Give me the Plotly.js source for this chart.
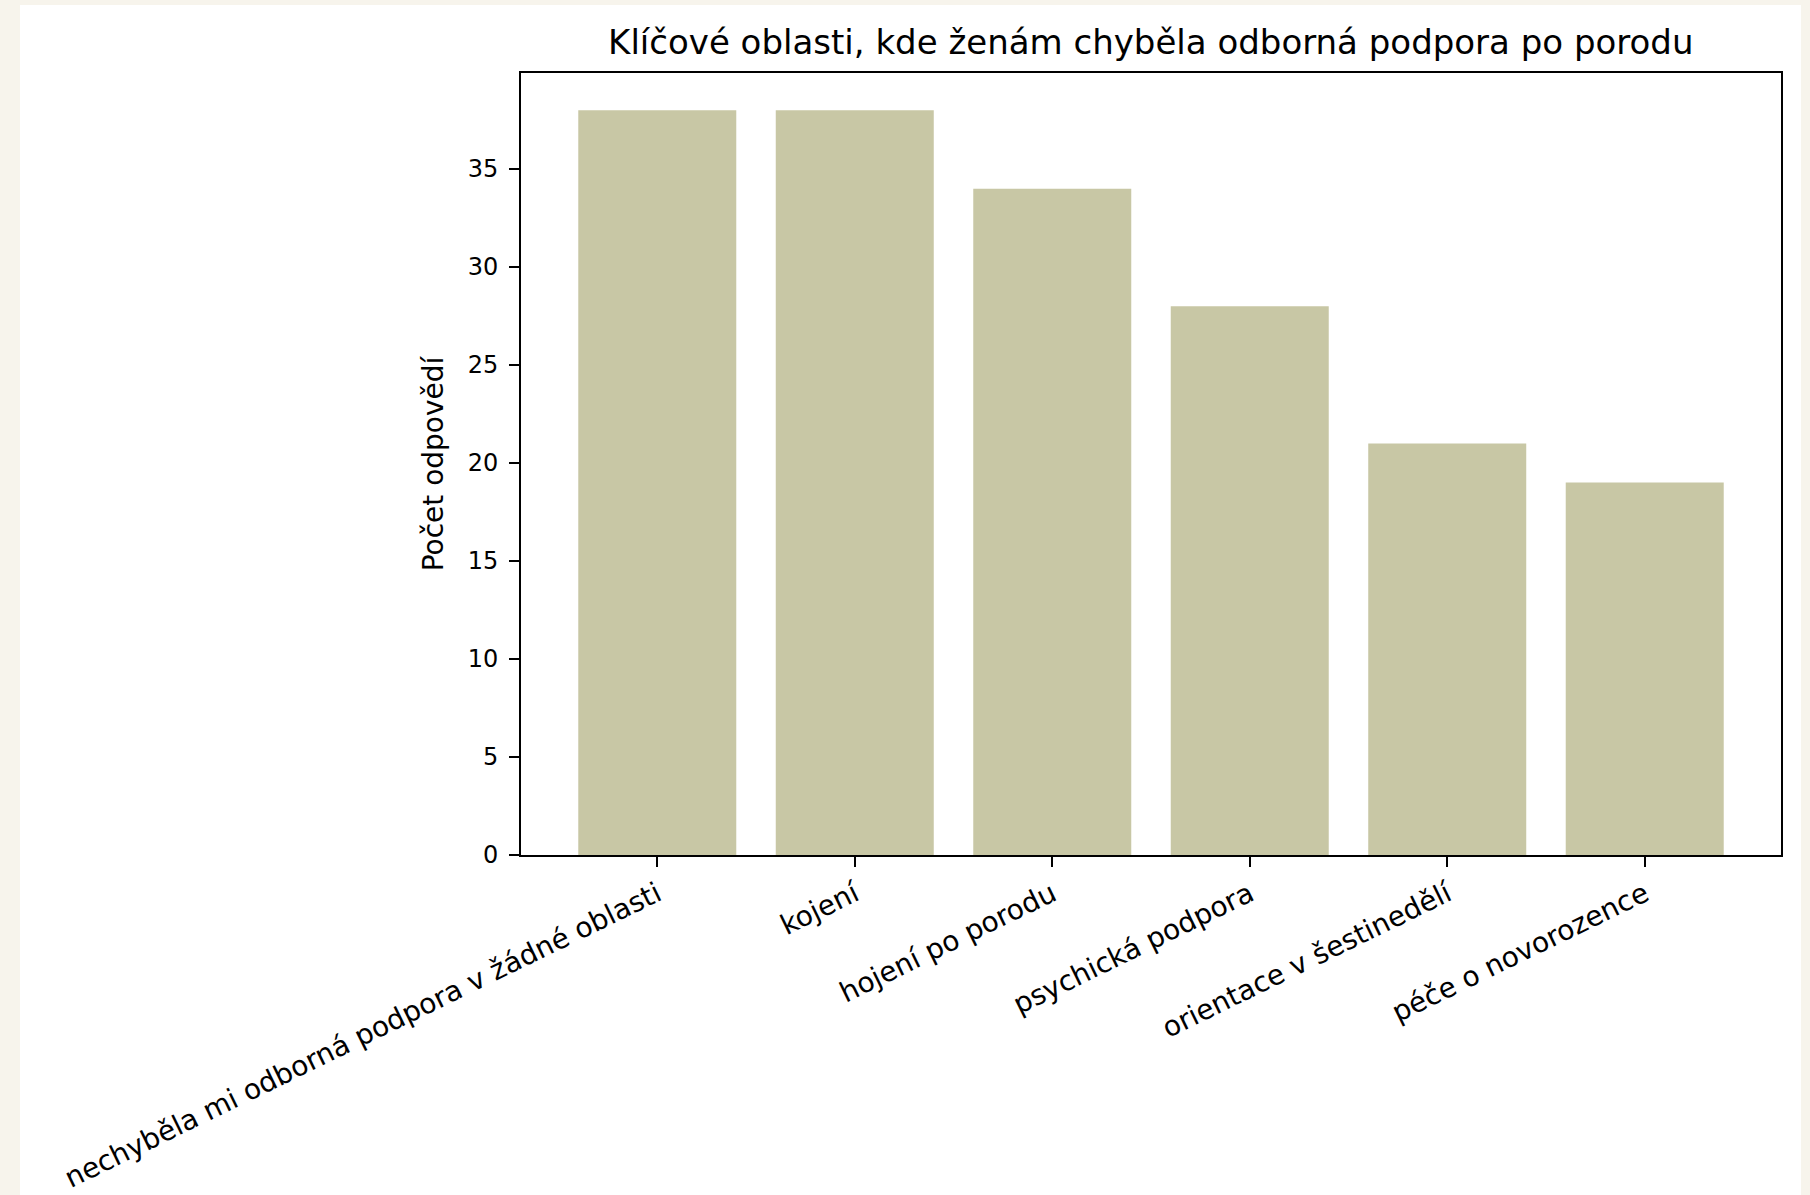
<!DOCTYPE html>
<html>
<head>
<meta charset="utf-8">
<script src="https://cdn.plot.ly/plotly-3.0.1.min.js"></script>
<style>
  html, body { margin: 0; padding: 0; background: #f7f4ec; width: 1810px; height: 1195px; overflow: hidden; }
  #chart { position: absolute; left: 20px; top: 5px; width: 1781px; height: 1190px; background: #ffffff; }
</style>
</head>
<body>
<div id="chart"></div>
<script>
const categories = [
  "nechyběla mi odborná podpora v žádné oblasti",
  "kojení",
  "hojení po porodu",
  "psychická podpora",
  "orientace v šestinedělí",
  "péče o novorozence"
];
const counts = [38, 38, 34, 28, 21, 19];
const yTicks = [0, 5, 10, 15, 20, 25, 30, 35];
const chartTitle = "Klíčové oblasti, kde ženám chyběla odborná podpora po porodu";
const yTitle = "Počet odpovědí";

const font = "DejaVu Sans, sans-serif";

const trace = {
  type: "bar",
  x: categories,
  y: counts,
  width: 0.8,
  marker: { color: "#c8c7a5", line: { width: 0 } },
  hoverinfo: "x+y"
};

const layout = {
  width: 1781,
  height: 1190,
  paper_bgcolor: "#ffffff",
  plot_bgcolor: "#ffffff",
  margin: { l: 501, r: 20, t: 68, b: 340, pad: 0 },
  showlegend: false,
  bargap: 0.2,
  font: { family: font, color: "#000000", size: 24 },
  title: {
    text: chartTitle,
    font: { family: font, size: 34, color: "#000000" },
    x: (500.6 + 1761) / 2 / 1781,
    xref: "container",
    xanchor: "center",
    y: 1 - 37 / 1190,
    yref: "container",
    yanchor: "middle"
  },
  xaxis: {
    type: "category",
    range: [-0.69, 5.69],
    showgrid: false,
    zeroline: false,
    showline: true,
    linecolor: "#000000",
    linewidth: 2,
    mirror: true,
    ticks: "outside",
    ticklen: 10,
    tickwidth: 2,
    tickcolor: "#000000",
    tickangle: -26,
    ticklabelstandoff: 0,
    tickfont: { family: font, size: 28, color: "#000000" },
    automargin: false
  },
  yaxis: {
    range: [0, 39.9],
    showgrid: false,
    zeroline: false,
    showline: true,
    linecolor: "#000000",
    linewidth: 2,
    mirror: true,
    ticks: "outside",
    ticklen: 10,
    tickwidth: 2,
    tickcolor: "#000000",
    tickmode: "array",
    tickvals: yTicks,
    ticktext: yTicks.map(String),
    ticklabelstandoff: 6,
    tickfont: { family: font, size: 24, color: "#000000" },
    title: { text: yTitle, font: { family: font, size: 28, color: "#000000" }, standoff: 16 },
    automargin: false
  }
};

Plotly.newPlot("chart", [trace], layout, { displayModeBar: false, staticPlot: true });
</script>
</body>
</html>
